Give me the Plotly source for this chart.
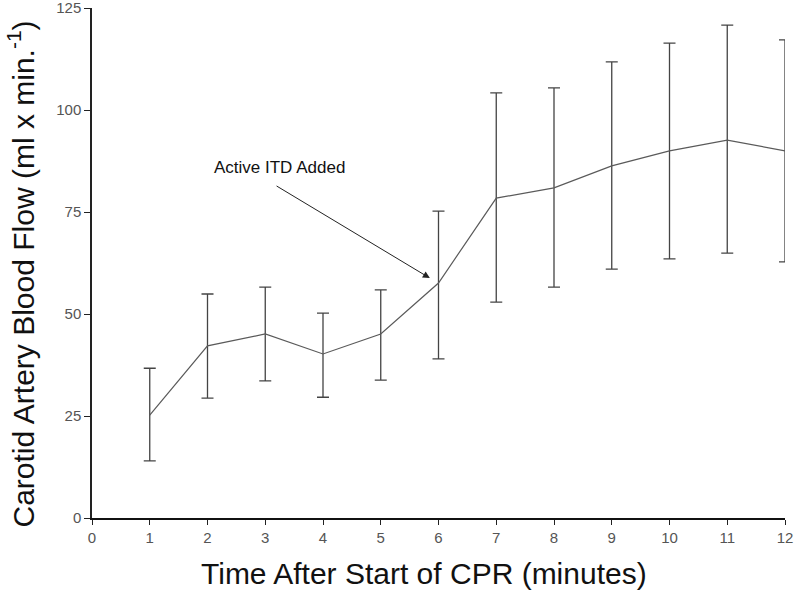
import plotly.graph_objects as go

minutes = [1, 2, 3, 4, 5, 6, 7, 8, 9, 10, 11, 12]
flow_mean = [25.2, 42.2, 45.1, 40.2, 45.1, 57.6, 78.4, 80.9, 86.3, 90.0, 92.6, 90.0]
flow_upper = [36.7, 54.9, 56.6, 50.2, 55.9, 75.2, 104.2, 105.4, 111.8, 116.4, 120.8, 117.2]
flow_lower = [14.0, 29.4, 33.6, 29.6, 33.8, 39.0, 52.9, 56.6, 61.0, 63.5, 64.9, 62.8]
x_ticks = list(range(0, 13))
y_ticks = [0, 25, 50, 75, 100, 125]

err_plus = [u - m for u, m in zip(flow_upper, flow_mean)]
err_minus = [m - l for m, l in zip(flow_mean, flow_lower)]

fig = go.Figure()
fig.add_trace(go.Scatter(
    x=minutes, y=flow_mean, mode="lines",
    line=dict(color="#5a5a5a", width=1.2),
    error_y=dict(type="data", symmetric=False, array=err_plus, arrayminus=err_minus,
                 color="#444444", thickness=1.3, width=6),
    showlegend=False, hoverinfo="skip",
))

fig.add_annotation(
    x=5.85, y=58.8, ax=3.17, ay=81.6, xref="x", yref="y", axref="x", ayref="y",
    showarrow=True, arrowhead=2, arrowsize=1.4, arrowwidth=1, arrowcolor="#222222",
    text="",
)
fig.add_annotation(
    x=3.24, y=85.8, xref="x", yref="y", text="Active ITD Added", showarrow=False,
    font=dict(family="Liberation Sans, Arial", size=17, color="#111111"),
)
# axis titles placed as annotations to match the reference's offsets
fig.add_annotation(
    x=0.479, y=-0.108, xref="paper", yref="paper", xanchor="center", yanchor="middle",
    text="Time After Start of CPR (minutes)", showarrow=False,
    font=dict(family="Liberation Sans, Arial", size=30, color="#111111"),
)
fig.add_annotation(
    x=-0.102, y=0.478, xref="paper", yref="paper", xanchor="center", yanchor="middle",
    text="Carotid Artery Blood Flow (ml x min.<sup>-1</sup>)", textangle=-90, showarrow=False,
    font=dict(family="Liberation Sans, Arial", size=30, color="#111111"),
)

fig.update_layout(
    width=800, height=596,
    margin=dict(l=92, r=15, t=8, b=78, autoexpand=False),
    plot_bgcolor="white", paper_bgcolor="white",
    font=dict(family="Liberation Sans, Arial", color="#111111"),
    xaxis=dict(
        range=[0, 12], tickmode="array", tickvals=x_ticks,
        ticks="outside", ticklen=5, tickcolor="#222222", automargin=False,
        showline=True, linecolor="#111111", linewidth=2, showgrid=False, zeroline=False,
        tickfont=dict(size=15, color="#555555"), ticklabeloverflow="allow",
    ),
    yaxis=dict(
        range=[0, 125], tickmode="array", tickvals=y_ticks,
        ticks="outside", ticklen=6, tickcolor="#222222", automargin=False,
        showline=True, linecolor="#222222", linewidth=1.5, showgrid=False, zeroline=False,
        tickfont=dict(size=15, color="#555555"), ticklabeloverflow="allow",
    ),
)

fig.write_html("out.html", config={"displayModeBar": False},
               post_script="document.body.style.margin='0';document.body.style.overflow='hidden';")
